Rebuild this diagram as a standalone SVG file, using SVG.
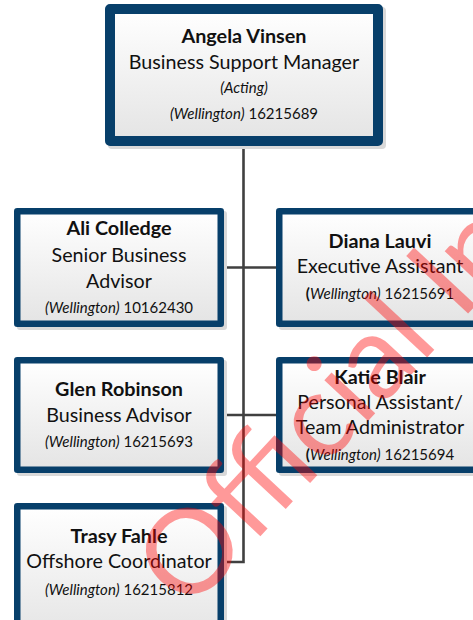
<svg xmlns="http://www.w3.org/2000/svg" width="473" height="620" viewBox="0 0 473 620">
<defs>
<linearGradient id="fill" x1="0" y1="0" x2="0" y2="1">
<stop offset="0" stop-color="#ffffff"/>
<stop offset="1" stop-color="#e4e4e4"/>
</linearGradient>
</defs>
<style>
.shadow{fill:#d9d9d9}
.box{fill:url(#fill);stroke:#073f6a;stroke-linejoin:round}
.top{stroke-width:10}
.sub{stroke-width:6.5}
text{font-family:Lato,"Liberation Sans",sans-serif;fill:#111;text-anchor:middle}
.n{font-weight:bold;font-size:19.8px}
.t{font-size:19.7px}
.s{font-size:15px}
.i{font-style:italic}
.b{font-weight:bold;font-style:normal}
.conn{stroke:#404040;stroke-width:2.6;fill:none}
.wm{font-family:Lato,"Liberation Sans",sans-serif;font-size:118px;fill:#ff0000;fill-opacity:0.4;text-anchor:start}
</style>
<g id="connectors">
<path class="conn" d="M243.5 146 V562 H224 M224 267.5 H276 M224 415 H276"/>
</g>
<g id="angela">
<rect class="shadow" x="108" y="7" width="278" height="142" rx="4"/>
<rect class="box top" x="110" y="9" width="268" height="132"/>
<text class="n" x="244" y="43">Angela Vinsen</text>
<text class="t" x="244" y="69">Business Support Manager</text>
<text class="s i" x="244" y="93">(Acting)</text>
<text class="s" x="244" y="119"><tspan class="i">(Wellington)</tspan> 16215689</text>
</g>
<g id="ali">
<rect class="shadow" x="17" y="211" width="210" height="119" rx="3"/>
<rect class="box sub" x="17.25" y="211.25" width="203.5" height="112.5"/>
<text class="n" x="119" y="235">Ali Colledge</text>
<text class="t" x="119" y="262">Senior Business</text>
<text class="t" x="119" y="288">Advisor</text>
<text class="s" x="119" y="313"><tspan class="i">(Wellington)</tspan> 10162430</text>
</g>
<g id="diana">
<rect class="shadow" x="279" y="211" width="210" height="119" rx="3"/>
<rect class="box sub" x="279.25" y="211.25" width="203.5" height="112.5"/>
<text class="n" x="380" y="248">Diana Lauvi</text>
<text class="t" x="380" y="273">Executive Assistant</text>
<text class="s" x="380" y="299"><tspan class="b">(</tspan><tspan class="i">Wellington)</tspan> 16215691</text>
</g>
<g id="glen">
<rect class="shadow" x="17" y="360" width="210" height="116" rx="3"/>
<rect class="box sub" x="17.25" y="360.25" width="203.5" height="109.5"/>
<text class="n" x="119" y="396">Glen Robinson</text>
<text class="t" x="119" y="422">Business Advisor</text>
<text class="s" x="119" y="447"><tspan class="i">(Wellington)</tspan> 16215693</text>
</g>
<g id="katie">
<rect class="shadow" x="279" y="360" width="210" height="116" rx="3"/>
<rect class="box sub" x="279.25" y="360.25" width="203.5" height="109.5"/>
<text class="n" x="380" y="384">Katie Blair</text>
<text class="t" x="380" y="409">Personal Assistant/</text>
<text class="t" x="380" y="434">Team Administrator</text>
<text class="s" x="380" y="460"><tspan class="b">(</tspan><tspan class="i">Wellington)</tspan> 16215694</text>
</g>
<g id="trasy">
<rect class="shadow" x="17" y="506" width="210" height="140" rx="3"/>
<rect class="box sub" x="17.25" y="506.25" width="203.5" height="133.5"/>
<text class="n" x="119" y="543">Trasy Fahle</text>
<text class="t" x="119" y="568">Offshore Coordinator</text>
<text class="s" x="119" y="595"><tspan class="i">(Wellington)</tspan> 16215812</text>
</g>
<g id="watermark">
<text class="wm" transform="translate(188 614) rotate(-47)">Official Information</text>
</g>
</svg>
